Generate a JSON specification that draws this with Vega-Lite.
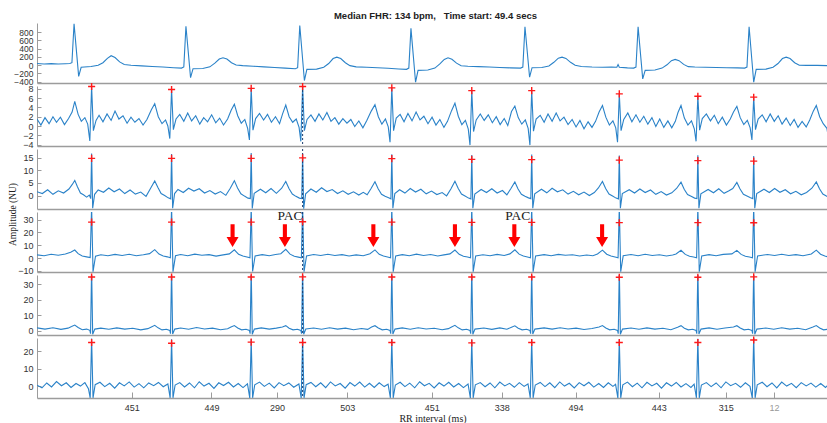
{
"$schema":"https://vega.github.io/schema/vega-lite/v6.json",
"background":"white",
"padding":{"left":6,"top":10,"right":0,"bottom":0},
"spacing":3,
"bounds":"flush",
"config":{
 "view":{"stroke":null},
 "axis":{"labelFont":"Liberation Sans","labelFontSize":9,"labelColor":"#333333","domainColor":"#9c9c9c","tickColor":"#9c9c9c","grid":false,"labelFlush":false,"labelOverlap":false,"labelBound":false},
 "axisY":{"tickSize":-4,"labelPadding":8,"domainWidth":1},
 "axisX":{"domainWidth":1.5}
},
"datasets":{
"s1":[{"t":0,"v":40},{"t":40,"v":30},{"t":80,"v":38},{"t":120,"v":28},{"t":160,"v":35},{"t":185,"v":40},{"t":197,"v":60},
{"t":209,"v":1000},{"t":235,"v":-270},{"t":249,"v":-50},{"t":305,"v":-30},{"t":345,"v":0},{"t":372,"v":60},{"t":397,"v":165},{"t":418,"v":230},{"t":440,"v":185},{"t":466,"v":80},{"t":492,"v":15},{"t":530,"v":0},{"t":590,"v":-15},{"t":650,"v":-30},{"t":710,"v":-45},{"t":770,"v":-60},{"t":815,"v":-70},{"t":828,"v":-40},
{"t":840,"v":940},{"t":866,"v":-300},{"t":880,"v":-85},{"t":935,"v":-80},{"t":975,"v":-40},{"t":1003,"v":50},{"t":1028,"v":150},{"t":1049,"v":180},{"t":1071,"v":150},{"t":1097,"v":60},{"t":1123,"v":5},{"t":1160,"v":-10},{"t":1220,"v":-25},{"t":1280,"v":-40},{"t":1340,"v":-55},{"t":1400,"v":-70},{"t":1457,"v":-85},{"t":1470,"v":-60},
{"t":1482,"v":960},{"t":1508,"v":-370},{"t":1522,"v":-100},{"t":1577,"v":-95},{"t":1617,"v":-50},{"t":1645,"v":40},{"t":1670,"v":160},{"t":1691,"v":195},{"t":1713,"v":160},{"t":1739,"v":60},{"t":1765,"v":-10},{"t":1800,"v":-40},{"t":1860,"v":-50},{"t":1920,"v":-60},{"t":1980,"v":-75},{"t":2040,"v":-90},{"t":2084,"v":-100},{"t":2097,"v":-70},
{"t":2109,"v":890},{"t":2135,"v":-410},{"t":2149,"v":-125},{"t":2204,"v":-115},{"t":2244,"v":-70},{"t":2272,"v":30},{"t":2297,"v":140},{"t":2318,"v":180},{"t":2340,"v":145},{"t":2366,"v":50},{"t":2392,"v":-15},{"t":2430,"v":-25},{"t":2490,"v":-35},{"t":2550,"v":-45},{"t":2610,"v":-55},{"t":2670,"v":-65},{"t":2727,"v":-70},{"t":2740,"v":-45},
{"t":2752,"v":930},{"t":2778,"v":-290},{"t":2792,"v":-60},{"t":2847,"v":-55},{"t":2887,"v":-20},{"t":2915,"v":70},{"t":2940,"v":170},{"t":2961,"v":195},{"t":2983,"v":165},{"t":3009,"v":70},{"t":3035,"v":0},{"t":3070,"v":-30},{"t":3130,"v":-45},{"t":3190,"v":-50},{"t":3240,"v":-45},{"t":3270,"v":-48},{"t":3277,"v":15},{"t":3284,"v":-50},{"t":3330,"v":-65},{"t":3365,"v":-70},{"t":3378,"v":-45},
{"t":3390,"v":930},{"t":3416,"v":-330},{"t":3430,"v":-125},{"t":3485,"v":-115},{"t":3525,"v":-70},{"t":3553,"v":10},{"t":3578,"v":110},{"t":3599,"v":140},{"t":3621,"v":110},{"t":3647,"v":20},{"t":3673,"v":-35},{"t":3710,"v":-45},{"t":3770,"v":-50},{"t":3830,"v":-55},{"t":3890,"v":-60},{"t":3950,"v":-65},{"t":3991,"v":-70},{"t":4004,"v":-45},
{"t":4016,"v":930},{"t":4042,"v":-410},{"t":4056,"v":-100},{"t":4111,"v":-95},{"t":4151,"v":-50},{"t":4179,"v":40},{"t":4204,"v":160},{"t":4225,"v":195},{"t":4247,"v":160},{"t":4273,"v":60},{"t":4299,"v":0},{"t":4340,"v":-5},{"t":4400,"v":-5},{"t":4461,"v":-10}],
"s2":[{"t":0,"v":1.5},{"t":22,"v":0.2},{"t":45,"v":1.8},{"t":68,"v":0.5},{"t":90,"v":2.0},{"t":110,"v":0.8},{"t":132,"v":1.9},{"t":155,"v":0.3},{"t":178,"v":1.6},{"t":198,"v":3.0},{"t":213,"v":5.3},{"t":232,"v":2.5},{"t":250,"v":1.0},{"t":270,"v":1.8},{"t":286,"v":0.4},{"t":298,"v":-3.2},{"t":308,"v":8.5},{"t":318,"v":-1.0},{"t":333,"v":1.2},
{"t":350,"v":2.3},{"t":372,"v":0.9},{"t":395,"v":2.6},{"t":418,"v":1.2},{"t":440,"v":3.2},{"t":462,"v":1.5},{"t":485,"v":2.2},{"t":508,"v":0.6},{"t":530,"v":1.9},{"t":552,"v":0.8},{"t":575,"v":1.6},{"t":598,"v":0.2},{"t":620,"v":1.4},{"t":645,"v":3.5},{"t":664,"v":4.8},{"t":684,"v":2.0},{"t":705,"v":0.5},{"t":725,"v":1.3},{"t":738,"v":0.0},{"t":749,"v":-2.7},{"t":759,"v":7.85},{"t":769,"v":-0.8},{"t":784,"v":1.5},
{"t":805,"v":2.5},{"t":828,"v":1.0},{"t":850,"v":2.8},{"t":872,"v":1.1},{"t":895,"v":2.2},{"t":918,"v":0.4},{"t":940,"v":1.8},{"t":962,"v":0.9},{"t":985,"v":2.4},{"t":1008,"v":0.7},{"t":1030,"v":1.7},{"t":1052,"v":0.2},{"t":1075,"v":1.5},{"t":1095,"v":3.4},{"t":1113,"v":4.7},{"t":1132,"v":2.2},{"t":1152,"v":0.6},{"t":1172,"v":1.4},{"t":1188,"v":-0.5},{"t":1198,"v":-3.0},{"t":1208,"v":8.1},{"t":1218,"v":-0.9},{"t":1233,"v":1.6},
{"t":1255,"v":2.7},{"t":1278,"v":1.3},{"t":1300,"v":2.5},{"t":1322,"v":0.8},{"t":1345,"v":2.0},{"t":1368,"v":0.5},{"t":1385,"v":2.6},{"t":1403,"v":4.5},{"t":1422,"v":2.0},{"t":1442,"v":0.8},{"t":1462,"v":1.5},{"t":1478,"v":-0.3},{"t":1488,"v":-3.3},{"t":1498,"v":8.5},{"t":1508,"v":-1.0},{"t":1523,"v":1.4},
{"t":1545,"v":2.4},{"t":1568,"v":1.0},{"t":1590,"v":2.6},{"t":1612,"v":1.3},{"t":1635,"v":2.9},{"t":1658,"v":1.0},{"t":1680,"v":1.8},{"t":1702,"v":0.4},{"t":1725,"v":1.6},{"t":1748,"v":0.6},{"t":1770,"v":1.4},{"t":1792,"v":-0.1},{"t":1815,"v":1.1},{"t":1838,"v":-0.4},{"t":1860,"v":1.2},{"t":1885,"v":3.2},{"t":1906,"v":4.6},{"t":1925,"v":2.0},{"t":1945,"v":0.4},{"t":1965,"v":1.5},{"t":1981,"v":-0.2},{"t":1991,"v":-3.5},{"t":2001,"v":8.2},{"t":2011,"v":-1.0},{"t":2026,"v":1.7},
{"t":2048,"v":2.5},{"t":2070,"v":0.9},{"t":2092,"v":2.7},{"t":2115,"v":1.1},{"t":2138,"v":3.0},{"t":2160,"v":1.3},{"t":2182,"v":2.1},{"t":2205,"v":0.5},{"t":2228,"v":1.9},{"t":2250,"v":0.2},{"t":2272,"v":1.4},{"t":2295,"v":-0.3},{"t":2315,"v":1.0},{"t":2338,"v":3.3},{"t":2357,"v":4.9},{"t":2376,"v":2.1},{"t":2396,"v":0.3},{"t":2416,"v":1.2},{"t":2432,"v":-0.6},{"t":2442,"v":-4.1},{"t":2452,"v":7.6},{"t":2462,"v":-1.2},{"t":2477,"v":1.3},
{"t":2500,"v":2.6},{"t":2522,"v":1.2},{"t":2545,"v":2.4},{"t":2568,"v":0.7},{"t":2590,"v":2.0},{"t":2612,"v":0.3},{"t":2635,"v":1.6},{"t":2655,"v":0.1},{"t":2676,"v":3.1},{"t":2695,"v":4.3},{"t":2714,"v":1.8},{"t":2734,"v":0.4},{"t":2754,"v":1.3},{"t":2770,"v":-0.5},{"t":2780,"v":-4.1},{"t":2790,"v":7.6},{"t":2800,"v":-1.1},{"t":2815,"v":1.5},
{"t":2838,"v":2.3},{"t":2860,"v":0.8},{"t":2882,"v":2.6},{"t":2905,"v":1.0},{"t":2928,"v":2.8},{"t":2950,"v":1.1},{"t":2972,"v":1.9},{"t":2995,"v":0.3},{"t":3018,"v":1.4},{"t":3040,"v":-0.2},{"t":3062,"v":1.2},{"t":3085,"v":-0.6},{"t":3108,"v":0.9},{"t":3130,"v":-0.3},{"t":3150,"v":1.0},{"t":3170,"v":3.0},{"t":3189,"v":4.4},{"t":3208,"v":1.9},{"t":3228,"v":0.2},{"t":3248,"v":1.1},{"t":3264,"v":-0.4},{"t":3274,"v":-3.5},{"t":3284,"v":6.9},{"t":3294,"v":-1.0},{"t":3309,"v":1.4},
{"t":3332,"v":2.8},{"t":3355,"v":0.9},{"t":3378,"v":2.4},{"t":3400,"v":0.8},{"t":3422,"v":2.1},{"t":3445,"v":0.4},{"t":3468,"v":1.8},{"t":3490,"v":-0.1},{"t":3512,"v":1.5},{"t":3535,"v":-0.3},{"t":3558,"v":1.1},{"t":3580,"v":-0.4},{"t":3600,"v":1.0},{"t":3615,"v":2.9},{"t":3632,"v":4.4},{"t":3651,"v":1.7},{"t":3671,"v":0.2},{"t":3691,"v":1.1},{"t":3707,"v":-0.6},{"t":3717,"v":-3.3},{"t":3727,"v":6.4},{"t":3737,"v":-0.9},{"t":3752,"v":1.6},
{"t":3775,"v":2.6},{"t":3798,"v":1.1},{"t":3820,"v":2.3},{"t":3842,"v":0.5},{"t":3865,"v":1.9},{"t":3888,"v":0.2},{"t":3910,"v":1.5},{"t":3928,"v":3.0},{"t":3947,"v":4.2},{"t":3966,"v":1.8},{"t":3986,"v":0.3},{"t":4006,"v":1.2},{"t":4022,"v":-0.4},{"t":4032,"v":-3.0},{"t":4042,"v":6.2},{"t":4052,"v":-0.8},{"t":4067,"v":1.5},
{"t":4090,"v":2.4},{"t":4112,"v":0.9},{"t":4135,"v":2.6},{"t":4158,"v":1.0},{"t":4180,"v":2.2},{"t":4202,"v":0.4},{"t":4225,"v":1.7},{"t":4248,"v":0.1},{"t":4270,"v":1.4},{"t":4292,"v":-0.3},{"t":4315,"v":1.0},{"t":4338,"v":-0.2},{"t":4358,"v":1.3},{"t":4378,"v":3.2},{"t":4395,"v":4.4},{"t":4414,"v":2.0},{"t":4434,"v":0.5},{"t":4455,"v":-0.5},{"t":4461,"v":-2.0}],
"s3":[{"t":0,"v":1.5},{"t":30,"v":0.8},{"t":60,"v":2.3},{"t":90,"v":0.5},{"t":120,"v":1.9},{"t":150,"v":1.0},{"t":180,"v":2.6},{"t":200,"v":4.5},{"t":213,"v":6.0},{"t":228,"v":3.5},{"t":245,"v":1.0},{"t":262,"v":0.3},{"t":280,"v":-0.6},{"t":295,"v":0.2},{"t":303,"v":-1.2},{"t":308,"v":16.6},{"t":314,"v":-5.0},{"t":325,"v":0.5},
{"t":345,"v":2.2},{"t":375,"v":1.3},{"t":405,"v":3.0},{"t":435,"v":1.5},{"t":465,"v":2.6},{"t":495,"v":0.8},{"t":525,"v":2.2},{"t":555,"v":0.6},{"t":585,"v":1.4},{"t":615,"v":-0.3},{"t":640,"v":2.8},{"t":664,"v":5.8},{"t":682,"v":3.2},{"t":700,"v":0.8},{"t":720,"v":0.0},{"t":740,"v":-0.9},{"t":754,"v":-1.3},{"t":759,"v":16.4},{"t":765,"v":-5.0},{"t":776,"v":0.8},
{"t":795,"v":2.4},{"t":825,"v":1.2},{"t":855,"v":2.9},{"t":885,"v":1.8},{"t":915,"v":2.7},{"t":945,"v":1.0},{"t":975,"v":2.0},{"t":1005,"v":0.6},{"t":1035,"v":1.6},{"t":1065,"v":0.1},{"t":1090,"v":2.9},{"t":1113,"v":5.9},{"t":1131,"v":3.0},{"t":1150,"v":0.7},{"t":1170,"v":-0.2},{"t":1190,"v":-1.0},{"t":1203,"v":-1.2},{"t":1208,"v":16.8},{"t":1214,"v":-5.1},{"t":1225,"v":0.9},
{"t":1260,"v":2.5},{"t":1290,"v":1.1},{"t":1320,"v":2.8},{"t":1350,"v":0.9},{"t":1380,"v":2.9},{"t":1403,"v":5.6},{"t":1421,"v":2.8},{"t":1440,"v":0.6},{"t":1460,"v":-0.3},{"t":1480,"v":-1.0},{"t":1493,"v":-1.2},{"t":1498,"v":16.5},{"t":1504,"v":-5.2},{"t":1515,"v":0.7},
{"t":1545,"v":2.6},{"t":1575,"v":1.3},{"t":1605,"v":3.1},{"t":1635,"v":1.6},{"t":1665,"v":2.4},{"t":1695,"v":0.8},{"t":1725,"v":1.9},{"t":1755,"v":0.5},{"t":1785,"v":1.5},{"t":1815,"v":0.2},{"t":1840,"v":1.3},{"t":1862,"v":0.3},{"t":1884,"v":2.8},{"t":1906,"v":5.5},{"t":1924,"v":2.7},{"t":1943,"v":0.5},{"t":1963,"v":-0.3},{"t":1983,"v":-0.9},{"t":1996,"v":-1.3},{"t":2001,"v":16.3},{"t":2007,"v":-5.0},{"t":2018,"v":0.8},
{"t":2045,"v":2.3},{"t":2075,"v":1.0},{"t":2105,"v":2.8},{"t":2135,"v":1.4},{"t":2165,"v":2.5},{"t":2195,"v":0.7},{"t":2225,"v":1.8},{"t":2255,"v":0.4},{"t":2285,"v":1.2},{"t":2310,"v":-0.1},{"t":2334,"v":2.6},{"t":2357,"v":5.7},{"t":2375,"v":2.9},{"t":2394,"v":0.6},{"t":2414,"v":-0.2},{"t":2434,"v":-1.0},{"t":2447,"v":-1.3},{"t":2452,"v":16.0},{"t":2458,"v":-5.0},{"t":2469,"v":0.6},
{"t":2505,"v":2.4},{"t":2535,"v":1.2},{"t":2565,"v":2.7},{"t":2595,"v":1.0},{"t":2625,"v":2.0},{"t":2650,"v":0.3},{"t":2672,"v":2.7},{"t":2695,"v":5.4},{"t":2713,"v":2.6},{"t":2732,"v":0.5},{"t":2752,"v":-0.3},{"t":2772,"v":-0.9},{"t":2785,"v":-1.2},{"t":2790,"v":16.2},{"t":2796,"v":-5.0},{"t":2807,"v":0.7},
{"t":2845,"v":2.5},{"t":2875,"v":1.1},{"t":2905,"v":2.9},{"t":2935,"v":1.5},{"t":2965,"v":2.3},{"t":2995,"v":0.6},{"t":3025,"v":1.7},{"t":3055,"v":0.3},{"t":3085,"v":1.4},{"t":3115,"v":0.0},{"t":3143,"v":1.2},{"t":3166,"v":3.0},{"t":3189,"v":5.6},{"t":3207,"v":2.8},{"t":3226,"v":0.6},{"t":3246,"v":-0.2},{"t":3266,"v":-1.0},{"t":3279,"v":-1.3},{"t":3284,"v":15.8},{"t":3290,"v":-5.0},{"t":3301,"v":0.8},
{"t":3340,"v":2.3},{"t":3370,"v":1.0},{"t":3400,"v":2.6},{"t":3430,"v":1.2},{"t":3460,"v":2.2},{"t":3490,"v":0.5},{"t":3520,"v":1.6},{"t":3550,"v":0.2},{"t":3580,"v":1.1},{"t":3608,"v":2.9},{"t":3632,"v":5.3},{"t":3650,"v":2.5},{"t":3669,"v":0.4},{"t":3689,"v":-0.3},{"t":3709,"v":-1.0},{"t":3722,"v":-1.2},{"t":3727,"v":15.9},{"t":3733,"v":-5.0},{"t":3744,"v":0.7},
{"t":3785,"v":2.4},{"t":3815,"v":1.1},{"t":3845,"v":2.7},{"t":3875,"v":0.9},{"t":3900,"v":1.8},{"t":3924,"v":2.8},{"t":3947,"v":5.2},{"t":3965,"v":2.6},{"t":3984,"v":0.5},{"t":4004,"v":-0.2},{"t":4024,"v":-0.9},{"t":4037,"v":-1.2},{"t":4042,"v":15.6},{"t":4048,"v":-5.0},{"t":4059,"v":0.8},
{"t":4100,"v":2.5},{"t":4130,"v":1.2},{"t":4160,"v":2.8},{"t":4190,"v":1.3},{"t":4220,"v":2.3},{"t":4250,"v":0.7},{"t":4280,"v":1.7},{"t":4310,"v":0.3},{"t":4340,"v":1.2},{"t":4370,"v":2.9},{"t":4395,"v":5.4},{"t":4413,"v":2.7},{"t":4432,"v":0.6},{"t":4461,"v":-0.5}],
"s4":[{"t":0,"v":2.5},{"t":40,"v":1.8},{"t":80,"v":3.0},{"t":120,"v":2.2},{"t":160,"v":3.2},{"t":190,"v":4.6},{"t":213,"v":6.3},{"t":232,"v":3.5},{"t":255,"v":1.6},{"t":280,"v":1.0},{"t":300,"v":0.5},{"t":308,"v":40},{"t":316,"v":-10.5},{"t":330,"v":1.5},
{"t":360,"v":2.6},{"t":400,"v":1.8},{"t":440,"v":2.9},{"t":480,"v":2.0},{"t":520,"v":3.0},{"t":560,"v":1.9},{"t":600,"v":2.6},{"t":635,"v":3.5},{"t":664,"v":6.6},{"t":688,"v":3.2},{"t":712,"v":1.7},{"t":735,"v":1.0},{"t":752,"v":0.3},{"t":759,"v":40},{"t":767,"v":-10.5},{"t":781,"v":1.8},
{"t":810,"v":2.8},{"t":850,"v":1.9},{"t":890,"v":3.1},{"t":930,"v":2.2},{"t":970,"v":2.7},{"t":1010,"v":1.6},{"t":1050,"v":2.5},{"t":1085,"v":3.3},{"t":1113,"v":6.5},{"t":1137,"v":3.0},{"t":1161,"v":1.6},{"t":1184,"v":0.9},{"t":1201,"v":0.3},{"t":1208,"v":40},{"t":1216,"v":-10.4},{"t":1230,"v":1.7},
{"t":1270,"v":2.7},{"t":1310,"v":1.9},{"t":1345,"v":2.8},{"t":1375,"v":3.4},{"t":1403,"v":6.8},{"t":1427,"v":3.1},{"t":1451,"v":1.5},{"t":1474,"v":0.8},{"t":1491,"v":0.2},{"t":1498,"v":40},{"t":1506,"v":-10.6},{"t":1520,"v":1.6},
{"t":1560,"v":2.8},{"t":1600,"v":2.0},{"t":1640,"v":3.0},{"t":1680,"v":2.1},{"t":1720,"v":2.7},{"t":1760,"v":1.7},{"t":1800,"v":2.5},{"t":1840,"v":1.8},{"t":1878,"v":3.4},{"t":1906,"v":6.4},{"t":1930,"v":3.0},{"t":1954,"v":1.6},{"t":1977,"v":0.9},{"t":1994,"v":0.3},{"t":2001,"v":40},{"t":2009,"v":-10.5},{"t":2023,"v":1.7},
{"t":2060,"v":2.7},{"t":2100,"v":1.9},{"t":2140,"v":3.1},{"t":2180,"v":2.1},{"t":2220,"v":2.8},{"t":2260,"v":1.7},{"t":2295,"v":2.5},{"t":2329,"v":3.3},{"t":2357,"v":6.3},{"t":2381,"v":3.0},{"t":2405,"v":1.5},{"t":2428,"v":0.9},{"t":2445,"v":0.2},{"t":2452,"v":40},{"t":2460,"v":-10.5},{"t":2474,"v":1.6},
{"t":2515,"v":2.6},{"t":2555,"v":1.8},{"t":2595,"v":2.9},{"t":2635,"v":2.1},{"t":2667,"v":3.3},{"t":2695,"v":6.5},{"t":2719,"v":3.1},{"t":2743,"v":1.6},{"t":2766,"v":0.9},{"t":2783,"v":0.3},{"t":2790,"v":40},{"t":2798,"v":-10.5},{"t":2812,"v":1.7},
{"t":2860,"v":2.7},{"t":2900,"v":1.8},{"t":2940,"v":2.9},{"t":2980,"v":2.2},{"t":3020,"v":2.6},{"t":3060,"v":1.7},{"t":3100,"v":2.4},{"t":3135,"v":1.9},{"t":3161,"v":3.2},{"t":3189,"v":6.2},{"t":3213,"v":3.0},{"t":3237,"v":1.6},{"t":3260,"v":0.9},{"t":3277,"v":0.3},{"t":3284,"v":40},{"t":3292,"v":-10.5},{"t":3306,"v":1.8},
{"t":3350,"v":2.8},{"t":3390,"v":1.9},{"t":3430,"v":3.0},{"t":3470,"v":2.1},{"t":3510,"v":2.6},{"t":3550,"v":1.7},{"t":3585,"v":2.4},{"t":3604,"v":3.2},{"t":3632,"v":6.1},{"t":3656,"v":2.9},{"t":3680,"v":1.5},{"t":3703,"v":0.9},{"t":3720,"v":0.3},{"t":3727,"v":40},{"t":3735,"v":-10.5},{"t":3749,"v":1.7},
{"t":3790,"v":2.7},{"t":3830,"v":1.9},{"t":3870,"v":2.9},{"t":3919,"v":3.3},{"t":3947,"v":6.0},{"t":3971,"v":2.9},{"t":3995,"v":1.5},{"t":4018,"v":0.9},{"t":4035,"v":0.3},{"t":4042,"v":40},{"t":4050,"v":-10.5},{"t":4064,"v":1.7},
{"t":4120,"v":2.8},{"t":4160,"v":2.0},{"t":4200,"v":3.0},{"t":4240,"v":2.1},{"t":4280,"v":2.7},{"t":4320,"v":1.8},{"t":4367,"v":3.2},{"t":4395,"v":6.2},{"t":4419,"v":3.0},{"t":4443,"v":1.6},{"t":4461,"v":1.0}],
"s5":[{"t":0,"v":1.8},{"t":45,"v":1.0},{"t":90,"v":1.9},{"t":135,"v":0.8},{"t":175,"v":1.6},{"t":195,"v":2.6},{"t":213,"v":3.6},{"t":232,"v":2.0},{"t":255,"v":0.6},{"t":280,"v":1.0},{"t":298,"v":0.2},{"t":302,"v":-2.0},{"t":308,"v":40},{"t":314,"v":-2.3},{"t":326,"v":1.0},
{"t":360,"v":1.6},{"t":405,"v":0.9},{"t":450,"v":1.8},{"t":495,"v":1.0},{"t":540,"v":1.5},{"t":585,"v":0.5},{"t":625,"v":1.3},{"t":645,"v":2.4},{"t":664,"v":3.4},{"t":683,"v":1.8},{"t":705,"v":0.5},{"t":730,"v":0.9},{"t":749,"v":0.1},{"t":753,"v":-2.0},{"t":759,"v":40},{"t":765,"v":-2.2},{"t":777,"v":1.0},
{"t":810,"v":1.7},{"t":855,"v":0.9},{"t":900,"v":2.0},{"t":945,"v":1.1},{"t":990,"v":1.6},{"t":1035,"v":0.6},{"t":1075,"v":1.2},{"t":1094,"v":2.3},{"t":1113,"v":3.3},{"t":1132,"v":1.7},{"t":1154,"v":0.5},{"t":1179,"v":0.9},{"t":1198,"v":0.1},{"t":1202,"v":-2.0},{"t":1208,"v":40},{"t":1214,"v":-2.3},{"t":1226,"v":1.0},
{"t":1265,"v":1.8},{"t":1310,"v":1.0},{"t":1350,"v":1.6},{"t":1384,"v":2.4},{"t":1403,"v":3.2},{"t":1422,"v":1.6},{"t":1444,"v":0.5},{"t":1469,"v":0.9},{"t":1488,"v":0.1},{"t":1492,"v":-2.0},{"t":1498,"v":40},{"t":1504,"v":-2.3},{"t":1516,"v":1.1},
{"t":1560,"v":1.7},{"t":1605,"v":0.9},{"t":1650,"v":1.9},{"t":1695,"v":1.0},{"t":1740,"v":1.6},{"t":1785,"v":0.6},{"t":1830,"v":1.4},{"t":1865,"v":0.8},{"t":1887,"v":2.3},{"t":1906,"v":3.2},{"t":1925,"v":1.7},{"t":1947,"v":0.5},{"t":1972,"v":0.9},{"t":1991,"v":0.1},{"t":1995,"v":-2.0},{"t":2001,"v":40},{"t":2007,"v":-2.2},{"t":2019,"v":1.0},
{"t":2060,"v":1.8},{"t":2105,"v":0.9},{"t":2150,"v":1.9},{"t":2195,"v":1.1},{"t":2240,"v":1.5},{"t":2285,"v":0.6},{"t":2320,"v":1.3},{"t":2338,"v":2.4},{"t":2357,"v":3.4},{"t":2376,"v":1.8},{"t":2398,"v":0.5},{"t":2423,"v":0.9},{"t":2442,"v":0.1},{"t":2446,"v":-2.0},{"t":2452,"v":40},{"t":2458,"v":-2.3},{"t":2470,"v":1.0},
{"t":2520,"v":1.7},{"t":2565,"v":0.8},{"t":2610,"v":1.8},{"t":2650,"v":0.9},{"t":2676,"v":2.2},{"t":2695,"v":3.1},{"t":2714,"v":1.6},{"t":2736,"v":0.5},{"t":2761,"v":0.9},{"t":2780,"v":0.1},{"t":2784,"v":-2.0},{"t":2790,"v":40},{"t":2796,"v":-2.2},{"t":2808,"v":1.0},
{"t":2860,"v":1.8},{"t":2905,"v":1.0},{"t":2950,"v":1.9},{"t":2995,"v":1.1},{"t":3040,"v":1.6},{"t":3085,"v":0.7},{"t":3130,"v":1.4},{"t":3170,"v":2.3},{"t":3189,"v":3.3},{"t":3208,"v":1.7},{"t":3230,"v":0.5},{"t":3255,"v":0.9},{"t":3274,"v":0.1},{"t":3278,"v":-2.0},{"t":3284,"v":40},{"t":3290,"v":-2.3},{"t":3302,"v":1.0},
{"t":3350,"v":1.7},{"t":3395,"v":0.9},{"t":3440,"v":1.8},{"t":3485,"v":1.0},{"t":3530,"v":1.5},{"t":3575,"v":0.6},{"t":3613,"v":2.2},{"t":3632,"v":3.2},{"t":3651,"v":1.6},{"t":3673,"v":0.5},{"t":3698,"v":0.9},{"t":3717,"v":0.1},{"t":3721,"v":-2.0},{"t":3727,"v":40},{"t":3733,"v":-2.2},{"t":3745,"v":1.0},
{"t":3790,"v":1.8},{"t":3835,"v":0.9},{"t":3880,"v":1.7},{"t":3928,"v":2.3},{"t":3947,"v":3.2},{"t":3966,"v":1.7},{"t":3988,"v":0.5},{"t":4013,"v":0.9},{"t":4032,"v":0.1},{"t":4036,"v":-2.0},{"t":4042,"v":40},{"t":4048,"v":-2.3},{"t":4060,"v":1.0},
{"t":4110,"v":1.7},{"t":4155,"v":0.9},{"t":4200,"v":1.9},{"t":4245,"v":1.0},{"t":4290,"v":1.5},{"t":4335,"v":0.6},{"t":4376,"v":2.3},{"t":4395,"v":3.3},{"t":4414,"v":1.7},{"t":4436,"v":0.5},{"t":4461,"v":0.9}],
"s6":[{"t":0,"v":0.5},{"t":28,"v":-1.0},{"t":55,"v":1.8},{"t":82,"v":-0.5},{"t":110,"v":2.6},{"t":138,"v":0.2},{"t":165,"v":1.9},{"t":192,"v":-0.8},{"t":220,"v":1.5},{"t":245,"v":0.0},{"t":270,"v":2.0},{"t":290,"v":-1.5},{"t":300,"v":-6.8},{"t":308,"v":27.5},{"t":316,"v":-6.8},{"t":328,"v":0.8},
{"t":355,"v":2.2},{"t":382,"v":-0.3},{"t":410,"v":1.6},{"t":438,"v":-1.2},{"t":465,"v":1.9},{"t":492,"v":0.1},{"t":520,"v":2.4},{"t":548,"v":-0.6},{"t":575,"v":1.4},{"t":602,"v":-1.0},{"t":630,"v":1.8},{"t":658,"v":0.2},{"t":685,"v":2.1},{"t":712,"v":-0.4},{"t":738,"v":1.2},{"t":751,"v":-6.8},{"t":759,"v":27.0},{"t":767,"v":-6.8},{"t":779,"v":0.6},
{"t":805,"v":2.0},{"t":832,"v":-0.5},{"t":860,"v":1.8},{"t":888,"v":-1.0},{"t":915,"v":2.5},{"t":942,"v":0.0},{"t":970,"v":1.6},{"t":998,"v":-1.3},{"t":1025,"v":1.9},{"t":1052,"v":0.3},{"t":1080,"v":2.2},{"t":1108,"v":-0.5},{"t":1135,"v":1.5},{"t":1162,"v":-0.9},{"t":1187,"v":1.3},{"t":1200,"v":-6.9},{"t":1208,"v":27.2},{"t":1216,"v":-6.8},{"t":1228,"v":0.7},
{"t":1255,"v":2.3},{"t":1282,"v":-0.2},{"t":1310,"v":1.7},{"t":1338,"v":-1.1},{"t":1365,"v":2.0},{"t":1392,"v":0.2},{"t":1420,"v":1.8},{"t":1448,"v":-0.7},{"t":1477,"v":1.2},{"t":1490,"v":-6.9},{"t":1498,"v":27.5},{"t":1506,"v":-6.8},{"t":1518,"v":0.8},
{"t":1545,"v":2.1},{"t":1572,"v":-0.4},{"t":1600,"v":1.9},{"t":1628,"v":-0.9},{"t":1655,"v":2.4},{"t":1682,"v":0.1},{"t":1710,"v":1.5},{"t":1738,"v":-1.2},{"t":1765,"v":2.0},{"t":1792,"v":0.0},{"t":1820,"v":2.3},{"t":1848,"v":-0.6},{"t":1875,"v":1.6},{"t":1902,"v":-0.8},{"t":1930,"v":1.9},{"t":1958,"v":-0.3},{"t":1980,"v":1.1},{"t":1993,"v":-6.8},{"t":2001,"v":27.0},{"t":2009,"v":-6.8},{"t":2021,"v":0.6},
{"t":2048,"v":2.2},{"t":2075,"v":-0.3},{"t":2102,"v":1.7},{"t":2130,"v":-1.0},{"t":2158,"v":2.5},{"t":2185,"v":0.2},{"t":2212,"v":1.6},{"t":2240,"v":-1.1},{"t":2268,"v":1.9},{"t":2295,"v":0.0},{"t":2322,"v":2.2},{"t":2350,"v":-0.5},{"t":2378,"v":1.5},{"t":2405,"v":-0.9},{"t":2431,"v":1.2},{"t":2444,"v":-6.9},{"t":2452,"v":26.8},{"t":2460,"v":-6.8},{"t":2472,"v":0.7},
{"t":2500,"v":2.0},{"t":2527,"v":-0.4},{"t":2555,"v":1.8},{"t":2582,"v":-1.0},{"t":2610,"v":2.3},{"t":2638,"v":0.1},{"t":2665,"v":1.6},{"t":2692,"v":-0.7},{"t":2720,"v":2.0},{"t":2747,"v":-0.2},{"t":2769,"v":1.2},{"t":2782,"v":-6.8},{"t":2790,"v":27.0},{"t":2798,"v":-6.8},{"t":2810,"v":0.6},
{"t":2838,"v":2.1},{"t":2865,"v":-0.3},{"t":2892,"v":1.9},{"t":2920,"v":-0.9},{"t":2948,"v":2.4},{"t":2975,"v":0.0},{"t":3002,"v":1.6},{"t":3030,"v":-1.1},{"t":3058,"v":2.0},{"t":3085,"v":0.2},{"t":3112,"v":2.2},{"t":3140,"v":-0.6},{"t":3168,"v":1.5},{"t":3195,"v":-0.8},{"t":3222,"v":1.9},{"t":3248,"v":-0.2},{"t":3263,"v":1.0},{"t":3276,"v":-6.9},{"t":3284,"v":27.0},{"t":3292,"v":-6.8},{"t":3304,"v":0.7},
{"t":3330,"v":2.3},{"t":3358,"v":-0.4},{"t":3385,"v":1.7},{"t":3412,"v":-1.0},{"t":3440,"v":2.2},{"t":3468,"v":0.1},{"t":3495,"v":1.6},{"t":3522,"v":-1.2},{"t":3550,"v":1.9},{"t":3578,"v":0.0},{"t":3605,"v":2.1},{"t":3632,"v":-0.5},{"t":3660,"v":1.4},{"t":3688,"v":-0.8},{"t":3706,"v":1.1},{"t":3719,"v":-6.8},{"t":3727,"v":27.3},{"t":3735,"v":-6.8},{"t":3747,"v":0.6},
{"t":3775,"v":2.0},{"t":3802,"v":-0.3},{"t":3830,"v":1.8},{"t":3858,"v":-1.0},{"t":3885,"v":2.4},{"t":3912,"v":0.2},{"t":3940,"v":1.6},{"t":3968,"v":-0.7},{"t":3995,"v":1.9},{"t":4021,"v":-0.2},{"t":4034,"v":-6.9},{"t":4042,"v":28.5},{"t":4050,"v":-6.8},{"t":4062,"v":0.7},
{"t":4090,"v":2.2},{"t":4117,"v":-0.4},{"t":4145,"v":1.8},{"t":4172,"v":-1.1},{"t":4200,"v":2.3},{"t":4228,"v":0.0},{"t":4255,"v":1.6},{"t":4282,"v":-0.9},{"t":4310,"v":2.0},{"t":4338,"v":0.1},{"t":4365,"v":1.7},{"t":4392,"v":-0.6},{"t":4420,"v":1.5},{"t":4447,"v":-0.8},{"t":4461,"v":0.5}],
"k2":[{"t":308,"v":8.5},{"t":759,"v":7.85},{"t":1208,"v":8.1},{"t":1498,"v":8.5},{"t":2001,"v":8.2},{"t":2452,"v":7.6},{"t":2790,"v":7.6},{"t":3284,"v":6.9},{"t":3727,"v":6.4},{"t":4042,"v":6.2}],
"k3":[{"t":308,"v":14.7},{"t":759,"v":14.7},{"t":1208,"v":14.7},{"t":1498,"v":14.9},{"t":2001,"v":14.6},{"t":2452,"v":14.3},{"t":2790,"v":14.2},{"t":3284,"v":14.0},{"t":3727,"v":13.8},{"t":4042,"v":13.6}],
"k4":[{"t":308,"v":28},{"t":759,"v":28},{"t":1208,"v":28},{"t":1498,"v":28.3},{"t":2001,"v":28},{"t":2452,"v":27.8},{"t":2790,"v":27.8},{"t":3284,"v":27.6},{"t":3727,"v":27.6},{"t":4042,"v":27.5}],
"k5":[{"t":308,"v":34.5},{"t":759,"v":34.5},{"t":1208,"v":34.5},{"t":1498,"v":34.6},{"t":2001,"v":34.5},{"t":2452,"v":34.5},{"t":2790,"v":34.5},{"t":3284,"v":34.4},{"t":3727,"v":34.4},{"t":4042,"v":34.6}],
"k6":[{"t":308,"v":25.2},{"t":759,"v":24.8},{"t":1208,"v":25.4},{"t":1498,"v":25.2},{"t":2001,"v":25.2},{"t":2452,"v":25.0},{"t":2790,"v":25.2},{"t":3284,"v":25.2},{"t":3727,"v":25.2},{"t":4042,"v":26.6}],
"pac":[{"t":1498}],
"arr":[{"t":1103,"v":17.5},{"t":1398,"v":17.5},{"t":1897,"v":17.5},{"t":2357,"v":17.5},{"t":2692,"v":17.5},{"t":3187,"v":17.5}],
"txt":[{"t":1427,"v":32.6,"label":"PAC"},{"t":2711,"v":32.6,"label":"PAC"}]
},
"vconcat":[
{"width":791,"height":60,
 "title":{"text":"Median FHR: 134 bpm,\u00a0\u00a0 Time start: 49.4 secs","font":"Liberation Sans","fontSize":9.5,"fontWeight":"bold","color":"#222222","offset":3,"anchor":"middle","frame":"group","dx":3},
 "encoding":{"x":{"field":"t","type":"quantitative","scale":{"domain":[0,4461],"nice":false,"zero":false},"axis":{"labels":false,"ticks":false,"title":null}}},
 "layer":[
  {"data":{"name":"s1"},"mark":{"type":"line","color":"#2a82c8","strokeWidth":1.1,"clip":true},
   "encoding":{"y":{"field":"v","type":"quantitative","scale":{"domain":[-430,1020],"nice":false,"zero":false},"axis":{"values":[-400,-200,0,200,400,600,800],"title":null,"labelFontSize":8.5,"labelOverlap":false}}}}
 ]},
{"width":791,"height":60,
 "encoding":{"x":{"field":"t","type":"quantitative","scale":{"domain":[0,4461],"nice":false,"zero":false},"axis":{"labels":false,"ticks":false,"title":null}}},
 "layer":[
  {"data":{"name":"s2"},"mark":{"type":"line","color":"#2a82c8","strokeWidth":1.1,"clip":true},
   "encoding":{"y":{"field":"v","type":"quantitative","scale":{"domain":[-4.3,8.6],"nice":false,"zero":false},"axis":{"values":[-4,-2,0,2,4,6,8],"title":null,"labelOverlap":false}}}},
  {"data":{"name":"pac"},"mark":{"type":"rule","color":"#1b3d6e","strokeDash":[2,2],"strokeWidth":1},"encoding":{}},
  {"data":{"name":"k2"},"mark":{"type":"point","shape":"M-1,0H1M0,-1V1","filled":false,"color":"#ff1a1a","strokeWidth":1.4,"size":50,"opacity":1},
   "encoding":{"y":{"field":"v","type":"quantitative","scale":{"domain":[-4.3,8.6],"nice":false,"zero":false},"axis":{"values":[-4,-2,0,2,4,6,8],"title":null,"labelOverlap":false}}}}
 ]},
{"width":791,"height":60,
 "encoding":{"x":{"field":"t","type":"quantitative","scale":{"domain":[0,4461],"nice":false,"zero":false},"axis":{"labels":false,"ticks":false,"title":null}}},
 "layer":[
  {"data":{"name":"s3"},"mark":{"type":"line","color":"#2a82c8","strokeWidth":1.1,"clip":true},
   "encoding":{"y":{"field":"v","type":"quantitative","scale":{"domain":[-5.3,18.4],"nice":false,"zero":false},"axis":{"values":[0,5,10,15],"title":null,"labelOverlap":false}}}},
  {"data":{"name":"pac"},"mark":{"type":"rule","color":"#1b3d6e","strokeDash":[2,2],"strokeWidth":1},"encoding":{}},
  {"data":{"name":"k3"},"mark":{"type":"point","shape":"M-1,0H1M0,-1V1","filled":false,"color":"#ff1a1a","strokeWidth":1.4,"size":50,"opacity":1},
   "encoding":{"y":{"field":"v","type":"quantitative","scale":{"domain":[-5.3,18.4],"nice":false,"zero":false},"axis":{"values":[0,5,10,15],"title":null,"labelOverlap":false}}}}
 ]},
{"width":791,"height":60,
 "encoding":{"x":{"field":"t","type":"quantitative","scale":{"domain":[0,4461],"nice":false,"zero":false},"axis":{"labels":false,"ticks":false,"title":null}}},
 "layer":[
  {"data":{"name":"txt"},"mark":{"type":"text","font":"Liberation Serif","fontSize":13.5,"color":"#222222","align":"center","baseline":"middle"},
   "encoding":{"y":{"field":"v","type":"quantitative","scale":{"domain":[-10.8,35.9],"nice":false,"zero":false},"axis":{"values":[-10,0,10,20,30],"labelOverlap":false,"title":"Amplitude (NU)","titleFont":"Liberation Serif","titleFontSize":9.5,"titleFontWeight":"normal","titleColor":"#222222","titleX":-20,"titleY":2}},"text":{"field":"label"}}},
  {"data":{"name":"s4"},"mark":{"type":"line","color":"#2a82c8","strokeWidth":1.1,"clip":true},
   "encoding":{"y":{"field":"v","type":"quantitative","scale":{"domain":[-10.8,35.9],"nice":false,"zero":false},"axis":{"values":[-10,0,10,20,30],"labelOverlap":false,"title":"Amplitude (NU)","titleFont":"Liberation Serif","titleFontSize":9.5,"titleFontWeight":"normal","titleColor":"#222222","titleX":-20,"titleY":2}}}},
  {"data":{"name":"pac"},"mark":{"type":"rule","color":"#1b3d6e","strokeDash":[2,2],"strokeWidth":1},"encoding":{}},
  {"data":{"name":"k4"},"mark":{"type":"point","shape":"M-1,0H1M0,-1V1","filled":false,"color":"#ff1a1a","strokeWidth":1.4,"size":50,"opacity":1},
   "encoding":{"y":{"field":"v","type":"quantitative","scale":{"domain":[-10.8,35.9],"nice":false,"zero":false},"axis":{"values":[-10,0,10,20,30],"labelOverlap":false,"title":"Amplitude (NU)","titleFont":"Liberation Serif","titleFontSize":9.5,"titleFontWeight":"normal","titleColor":"#222222","titleX":-20,"titleY":2}}}},
  {"data":{"name":"arr"},"mark":{"type":"point","shape":"M-0.18,-1H0.18V0.12H0.53L0,1L-0.53,0.12H-0.18Z","filled":true,"color":"#ff0000","size":515,"opacity":1,"strokeWidth":0},
   "encoding":{"y":{"field":"v","type":"quantitative","scale":{"domain":[-10.8,35.9],"nice":false,"zero":false},"axis":{"values":[-10,0,10,20,30],"labelOverlap":false,"title":"Amplitude (NU)","titleFont":"Liberation Serif","titleFontSize":9.5,"titleFontWeight":"normal","titleColor":"#222222","titleX":-20,"titleY":2}}}}
 ]},
{"width":791,"height":60,
 "encoding":{"x":{"field":"t","type":"quantitative","scale":{"domain":[0,4461],"nice":false,"zero":false},"axis":{"labels":false,"ticks":false,"title":null}}},
 "layer":[
  {"data":{"name":"s5"},"mark":{"type":"line","color":"#2a82c8","strokeWidth":1.1,"clip":true},
   "encoding":{"y":{"field":"v","type":"quantitative","scale":{"domain":[-2.8,35.8],"nice":false,"zero":false},"axis":{"values":[0,10,20,30],"title":null,"labelOverlap":false}}}},
  {"data":{"name":"pac"},"mark":{"type":"rule","color":"#1b3d6e","strokeDash":[2,2],"strokeWidth":1},"encoding":{}},
  {"data":{"name":"k5"},"mark":{"type":"point","shape":"M-1,0H1M0,-1V1","filled":false,"color":"#ff1a1a","strokeWidth":1.4,"size":50,"opacity":1},
   "encoding":{"y":{"field":"v","type":"quantitative","scale":{"domain":[-2.8,35.8],"nice":false,"zero":false},"axis":{"values":[0,10,20,30],"title":null,"labelOverlap":false}}}}
 ]},
{"width":791,"height":60,
 "encoding":{"x":{"field":"t","type":"quantitative","scale":{"domain":[0,4461],"nice":false,"zero":false},
   "axis":{"values":[534,984,1353,1750,2227,2621,3037,3506,3885,4157],
    "labelExpr":"['451','449','290','503','451','338','494','443','315','12'][indexof([534,984,1353,1750,2227,2621,3037,3506,3885,4157], datum.value)]",
    "labelColor":{"condition":{"test":"datum.value > 4100","value":"#999999"},"value":"#333333"},
    "tickSize":-6,"labelPadding":11,"title":"RR interval (ms)","titleFont":"Liberation Serif","titleFontSize":10,"titleFontWeight":"normal","titleColor":"#222222","titlePadding":1}}},
 "layer":[
  {"data":{"name":"s6"},"mark":{"type":"line","color":"#2a82c8","strokeWidth":1.1,"clip":true},
   "encoding":{"y":{"field":"v","type":"quantitative","scale":{"domain":[-6.9,27.8],"nice":false,"zero":false},"axis":{"values":[0,10,20],"title":null,"labelOverlap":false}}}},
  {"data":{"name":"pac"},"mark":{"type":"rule","color":"#1b3d6e","strokeDash":[2,2],"strokeWidth":1},"encoding":{}},
  {"data":{"name":"k6"},"mark":{"type":"point","shape":"M-1,0H1M0,-1V1","filled":false,"color":"#ff1a1a","strokeWidth":1.4,"size":50,"opacity":1},
   "encoding":{"y":{"field":"v","type":"quantitative","scale":{"domain":[-6.9,27.8],"nice":false,"zero":false},"axis":{"values":[0,10,20],"title":null,"labelOverlap":false}}}}
 ]}
]
}
